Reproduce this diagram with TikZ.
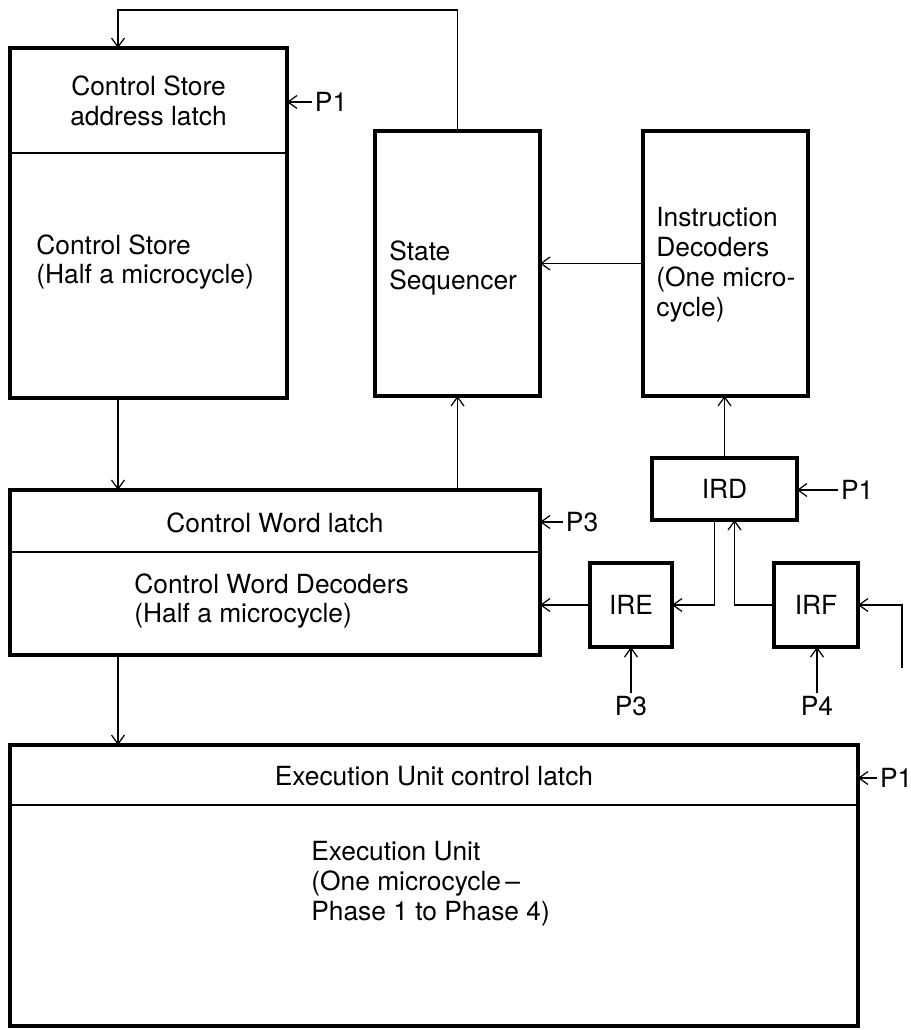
\documentclass[tikz,border=0pt]{standalone}
\usepackage{fontspec}
\setmainfont{TeX Gyre Heros}
\usetikzlibrary{arrows.meta,calc}

\begin{document}
\begin{tikzpicture}[x=0.02cm,y=-0.02cm,
  font=\fontsize{15}{17}\selectfont,
  blk/.style={rectangle,draw,line width=2pt,inner sep=0pt,outer sep=0pt},
  sep/.style={line width=0.8pt},
  conn/.style={line width=0.7pt,-{Straight Barb[length=1.8mm,width=2.6mm]}},
  txt/.style={inner sep=0pt,align=left,anchor=west},
  clk/.style={inner sep=1.5pt}]
  \useasboundingbox (0,0) rectangle (911,1030);

  \node[blk,minimum width=5.54cm,minimum height=7cm] (cstore) at (148.5,223) {};
  \node[blk,minimum width=3.3cm,minimum height=5.3cm] (seq) at (457.5,263.5) {};
  \node[blk,minimum width=3.3cm,minimum height=5.3cm] (idec) at (725.5,263.5) {};
  \node[blk,minimum width=10.6cm,minimum height=3.3cm] (cword) at (275,572.5) {};
  \node[blk,minimum width=2.9cm,minimum height=1.24cm] (ird) at (724.5,489) {IRD};
  \node[blk,minimum width=1.64cm,minimum height=1.68cm] (ire) at (631,605) {IRE};
  \node[blk,minimum width=1.68cm,minimum height=1.68cm] (irf) at (816,605) {IRF};
  \node[blk,minimum width=16.96cm,minimum height=5.62cm] (exu) at (434,885.5) {};

  \draw[sep] ($(cstore.north west)+(0,105)$) -- ($(cstore.north east)+(0,105)$);
  \draw[sep] ($(cword.north west)+(0,62)$) -- ($(cword.north east)+(0,62)$);
  \draw[sep] ($(exu.north west)+(0,60)$) -- ($(exu.north east)+(0,60)$);

  \node[inner sep=0pt,align=center] (cslatch) at (148.5,101) {Control Store\\address latch};
  \node[txt] (cstext) at (36,262) {Control Store\\(Half a microcycle)};
  \node[txt] (seqtext) at (389,268) {State\\Sequencer};
  \node[txt] (idectext) at (656,265) {Instruction\\Decoders\\(One micro-\\cycle)};
  \node[inner sep=0pt] (cwlatch) at (275,523) {Control Word latch};
  \node[txt] (cwtext) at (134,601) {Control Word Decoders\\(Half a microcycle)};
  \node[inner sep=0pt] (eulatch) at (434,776) {Execution Unit control latch};
  \node[txt] (eutext) at (311,884) {Execution Unit\\(One microcycle\,--\\Phase 1 to Phase 4)};

  \node[clk,anchor=west] (pcs) at (312,102) {P1};
  \node[clk,anchor=west] (pcw) at (563,522) {P3};
  \node[clk,anchor=west] (pird) at (838,490) {P1};
  \node[clk,anchor=west] (peu) at (877,778) {P1};
  \node[clk] (pire) at (631,706) {P3};
  \node[clk] (pirf) at (817,706) {P4};
  \coordinate (fb) at (118,10);
  \coordinate (irfin) at (902,668);

  \draw[conn] (seq.north) |- (fb) -- (fb |- cstore.north);
  \draw[conn] (cstore.south -| fb) -- (cword.north -| fb);
  \draw[conn] (cword.south -| fb) -- (exu.north -| fb);
  \draw[conn] (cword.north -| seq.south) -- (seq.south);
  \draw[conn] (idec.west) -- (seq.east);
  \draw[conn] (ird.north) -- (ird.north |- idec.south);
  \draw[conn] ($(ird.south)+(-10,0)$) |- (ire.east);
  \draw[conn] (irf.west) -| ($(ird.south)+(10,0)$);
  \draw[conn] (ire.west) -- (ire.west -| cword.east);
  \draw[conn] (irfin) |- (irf.east);

  \draw[conn] (pcs.west) -- (pcs.west -| cstore.east);
  \draw[conn] (pcw.west) -- (pcw.west -| cword.east);
  \draw[conn] (pird.west) -- (pird.west -| ird.east);
  \draw[conn] (peu.west) -- (peu.west -| exu.east);
  \draw[conn] (pire.north) -- (ire.south);
  \draw[conn] (pirf.north) -- (pirf.north |- irf.south);
\end{tikzpicture}
\end{document}
